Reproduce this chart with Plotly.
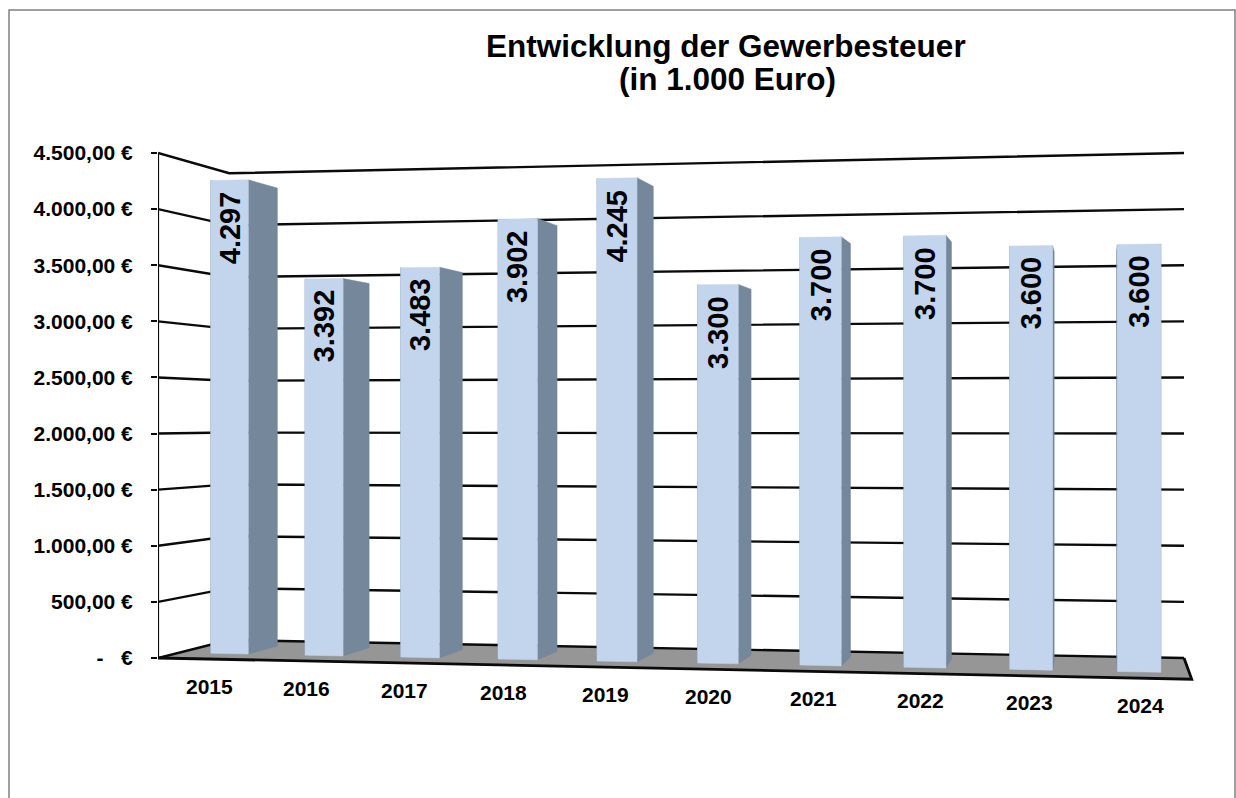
import plotly.graph_objects as go

# ---------------- data ----------------
years = ["2015", "2016", "2017", "2018", "2019", "2020", "2021", "2022", "2023", "2024"]
values = [4297, 3392, 3483, 3902, 4245, 3300, 3700, 3700, 3600, 3600]
y_ticks = [0, 500, 1000, 1500, 2000, 2500, 3000, 3500, 4000, 4500]
y_tick_labels = ["-\u00a0\u00a0\u00a0€", "500,00 €", "1.000,00 €", "1.500,00 €", "2.000,00 €",
                 "2.500,00 €", "3.000,00 €", "3.500,00 €", "4.000,00 €", "4.500,00 €"]
title_line1 = "Entwicklung der Gewerbesteuer"
title_line2 = "(in 1.000 Euro)"

# ---------------- layout / 3D look parameters ----------------
W, H = 1236, 798
FONT = "Liberation Sans, Arial, Helvetica, sans-serif"
AXIS_PX = 158.0        # pixel x of the front-left vertical axis
BASE_PX = 658.0        # pixel y of value 0 at the front-left corner
S = 505.0 / 4500.0     # pixel per value unit at the front-left corner
# perspective (world X: width 0..1, Y: depth 0..1, Z: value)
PA, PB = 936.0, 90.0   # horizontal projection coefficients
PP, PQ = -0.082, 0.082 # depth (w) coefficients
G = 237.5              # horizon offset in px
BAR_HALF = 0.02
X_OFF = 0.004
Y_FRONT, Y_BACK = 0.28, 0.72
Z_MAX = 4500


def proj(X, Y, Z):
    """Project world point to (axis-x in px, axis-y in value units at front-left)."""
    w = 1.0 + PP * X + PQ * Y
    x = (AXIS_PX + PA * X + PB * Y) / w
    v = G / S * (1.0 - 1.0 / w) + Z / w
    return x, v


def poly(points):
    xs, ys = [], []
    for p in points:
        x, y = proj(*p)
        xs.append(x)
        ys.append(y)
    xs.append(xs[0])
    ys.append(ys[0])
    return xs, ys


fig = go.Figure()

# floor
fx, fy = poly([(0, 0, 0), (1, 0, 0), (1, 1, 0), (0, 1, 0)])
fig.add_trace(go.Scatter(x=fx, y=fy, mode="lines", fill="toself", fillcolor="#969696",
                         line=dict(width=0, color="#969696"), hoverinfo="skip"))

# gridlines on left wall and back wall
gx, gy = [], []
for t in y_ticks:
    for p in [(0, 0, t), (0, 1, t), (1, 1, t)]:
        x, y = proj(*p)
        gx.append(x)
        gy.append(y)
    gx.append(None)
    gy.append(None)
fig.add_trace(go.Scatter(x=gx, y=gy, mode="lines", line=dict(color="#0a0a0a", width=2.4),
                         hoverinfo="skip"))

# floor front & right edges
ex, ey = [], []
for p in [(0, 0, 0), (1, 0, 0), (1, 1, 0)]:
    x, y = proj(*p)
    ex.append(x)
    ey.append(y)
fig.add_trace(go.Scatter(x=ex, y=ey, mode="lines", line=dict(color="#0a0a0a", width=2.8),
                         hoverinfo="skip"))

# vertical axis line
ax_x, ax_y = [], []
for p in [(0, 0, 0), (0, 0, Z_MAX)]:
    x, y = proj(*p)
    ax_x.append(x)
    ax_y.append(y)
fig.add_trace(go.Scatter(x=ax_x, y=ax_y, mode="lines", line=dict(color="#0a0a0a", width=2.2),
                         hoverinfo="skip"))

# bars
annotations = []
for i, (yr, v) in enumerate(zip(years, values)):
    xc = X_OFF + (i + 0.5) / len(years)
    x0, x1 = xc - BAR_HALF, xc + BAR_HALF
    for xs_ in (x0, x1):
        sx, sy = poly([(xs_, Y_FRONT, 0), (xs_, Y_BACK, 0), (xs_, Y_BACK, v), (xs_, Y_FRONT, v)])
        fig.add_trace(go.Scatter(x=sx, y=sy, mode="lines", fill="toself", fillcolor="#75879b",
                                 line=dict(width=0.5, color="#75879b"), hoverinfo="skip"))
    fxs, fys = poly([(x0, Y_FRONT, 0), (x1, Y_FRONT, 0), (x1, Y_FRONT, v), (x0, Y_FRONT, v)])
    fig.add_trace(go.Scatter(x=fxs, y=fys, mode="lines", fill="toself", fillcolor="#c2d5ed",
                             line=dict(width=0.5, color="#c2d5ed"), hoverinfo="skip"))
    # value label
    lx, ly = proj(xc, Y_FRONT, v)
    annotations.append(dict(x=lx, y=ly, xref="x", yref="y", text=f"{v:,}".replace(",", "."),
                            textangle=-90, showarrow=False, xanchor="center", yanchor="top",
                            yshift=-9, font=dict(family=FONT, size=29, color="black", weight="bold")))
    # category label
    cx, cy = proj(xc, 0, 0)
    annotations.append(dict(x=cx, y=cy, xref="x", yref="y", text=yr, showarrow=False,
                            xanchor="center", yanchor="middle", yshift=-27,
                            font=dict(family=FONT, size=21, color="black", weight="bold")))

# title
annotations.append(dict(x=726 / W, y=1 - 46 / H, xref="paper", yref="paper", text=title_line1,
                        showarrow=False, xanchor="center", yanchor="middle",
                        font=dict(family=FONT, size=31.5, color="black", weight="bold")))
annotations.append(dict(x=727 / W, y=1 - 79 / H, xref="paper", yref="paper", text=title_line2,
                        showarrow=False, xanchor="center", yanchor="middle",
                        font=dict(family=FONT, size=31.5, color="black", weight="bold")))

fig.update_layout(
    width=W, height=H,
    margin=dict(l=0, r=0, t=0, b=0, pad=0),
    paper_bgcolor="white", plot_bgcolor="white",
    showlegend=False,
    annotations=annotations,
    shapes=[dict(type="rect", xref="paper", yref="paper", x0=9 / W, x1=1235 / W,
                 y0=-0.02, y1=1 - 10 / H, line=dict(color="#808080", width=1.5))],
    xaxis=dict(range=[AXIS_PX, W], domain=[AXIS_PX / W, 1], visible=False, fixedrange=True),
    yaxis=dict(range=[(BASE_PX - H) / S, BASE_PX / S], domain=[0, 1], showgrid=False,
               zeroline=False, showline=False, ticks="outside", ticklen=6, tickwidth=2,
               tickcolor="#0a0a0a", tickvals=y_ticks, ticktext=y_tick_labels,
               ticklabelstandoff=14, automargin=False, fixedrange=True,
               tickfont=dict(family=FONT, size=21, color="black", weight="bold")),
)

fig.write_html(
    "out.html",
    config={"displayModeBar": False},
    post_script="document.body.style.margin='0';document.body.style.overflow='hidden';",
)
